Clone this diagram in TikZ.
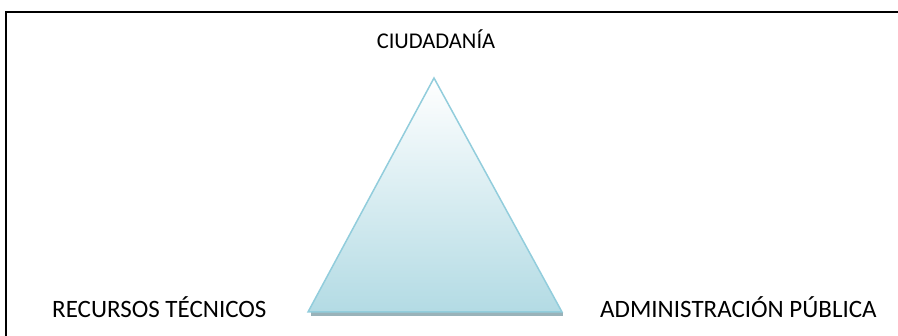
\documentclass[tikz,border=0pt]{standalone}
\usepackage{fontspec}
\setmainfont{Carlito}
\usepackage{tikz}
\definecolor{aqualine}{HTML}{92CDDC}
\definecolor{aquafill}{HTML}{B3DBE4}
\definecolor{aquashadow}{HTML}{7F9FA8}
\tikzset{
label/.style={
  font=\fontsize{22.5}{26}\selectfont,
  inner sep=0pt,
  anchor=base
},
biglabel/.style={
  label,
  font=\fontsize{25}{29}\selectfont,
  anchor=base west
},
apex/.style={
  draw=aqualine,
  line width=1.5pt,
  line join=miter,
  top color=white,
  bottom color=aquafill
},
}

\begin{document}
\begin{tikzpicture}[x=1pt,y=-1pt]
\useasboundingbox (0,0) rectangle (898,336);
% the frame
\draw[line width=2pt] (898,12.5) -- (5.5,12.5) -- (5.5,336);
% the triangle
\coordinate (top) at (434,78);
\coordinate (left) at (308,312);
\coordinate (right) at (562,312);
\fill[aquashadow,opacity=.8] (311,312) rectangle (563,316);
\draw[apex] (top) -- (left) -- (right) -- cycle;
% the labels
\node[label] (ciudadania) at (436,49) {CIUDADANÍA};
\node[biglabel] (recursos) at (52,318) {RECURSOS TÉCNICOS};
\node[biglabel] (administracion) at (600,318) {ADMINISTRACIÓN PÚBLICA};
\end{tikzpicture}
\end{document}
